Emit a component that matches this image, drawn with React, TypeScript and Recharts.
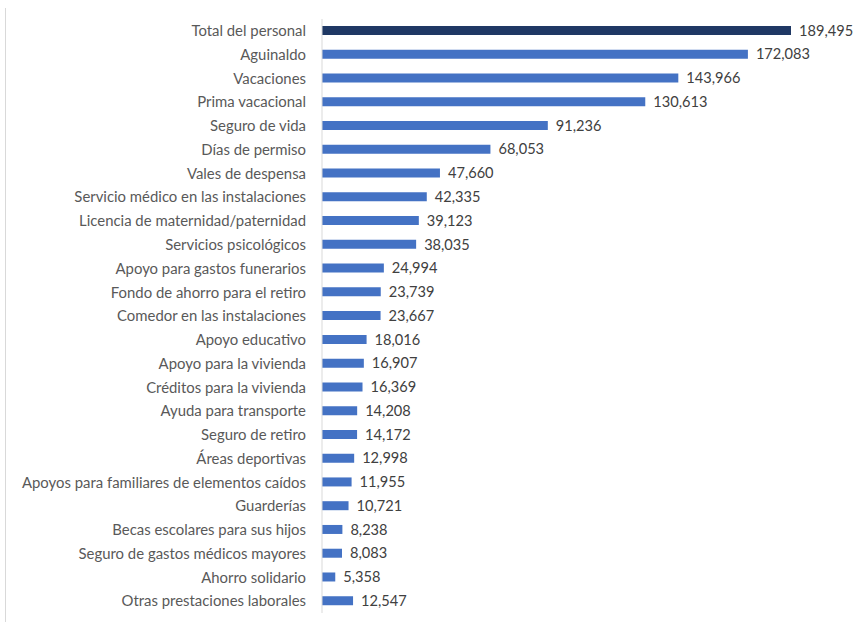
import { Bar, BarChart, Cell, LabelList, XAxis, YAxis } from "recharts";

const categories = [
  "Total del personal",
  "Aguinaldo",
  "Vacaciones",
  "Prima vacacional",
  "Seguro de vida",
  "Días de permiso",
  "Vales de despensa",
  "Servicio médico en las instalaciones",
  "Licencia de maternidad/paternidad",
  "Servicios psicológicos",
  "Apoyo para gastos funerarios",
  "Fondo de ahorro para el retiro",
  "Comedor en las instalaciones",
  "Apoyo educativo",
  "Apoyo para la vivienda",
  "Créditos para la vivienda",
  "Ayuda para transporte",
  "Seguro de retiro",
  "Áreas deportivas",
  "Apoyos para familiares de elementos caídos",
  "Guarderías",
  "Becas escolares para sus hijos",
  "Seguro de gastos médicos mayores",
  "Ahorro solidario",
  "Otras prestaciones laborales"
];

const values = [
  189495, 172083, 143966, 130613, 91236, 68053, 47660, 42335, 39123, 38035,
  24994, 23739, 23667, 18016, 16907, 16369, 14208, 14172, 12998, 11955, 10721,
  8238, 8083, 5358, 12547
];

const NAVY = "#1f3864";
const BLUE = "#4472c4";
const TEXT = "#595959";
const FONT = "Lato, 'Open Sans', sans-serif";

const data = categories.map((name, i) => ({ name, value: values[i] }));

export default function App() {
  return (
    <div style={{ position: "absolute", left: 0, top: 0, width: 863, height: 631, background: "#fff" }}>
      <div
        style={{
          position: "absolute",
          left: 5,
          top: 8,
          height: 614,
          borderLeft: "1px solid #d9d9d9"
        }}
      />
      <BarChart
        width={863}
        height={631}
        data={data}
        layout="vertical"
        margin={{ top: 19, right: 46, left: 0, bottom: 18 }}
        barCategoryGap={0}
      >
        <XAxis type="number" domain={[0, 200000]} hide />
        <YAxis
          type="category"
          dataKey="name"
          width={322}
          interval={0}
          tickLine={false}
          axisLine={{ stroke: "#d9d9d9" }}
          tickMargin={10}
          tick={{ fontSize: 14.9, fill: TEXT, fontFamily: FONT }}
        />
        <Bar dataKey="value" barSize={9} isAnimationActive={false}>
          {data.map((d, i) => (
            <Cell key={d.name} fill={i === 0 ? NAVY : BLUE} />
          ))}
          <LabelList
            dataKey="value"
            position="right"
            offset={8}
            formatter={(v: any) => Number(v).toLocaleString("en-US")}
            style={{ fontSize: 14.6, fill: "#404040", fontFamily: FONT }}
          />
        </Bar>
      </BarChart>
    </div>
  );
}
